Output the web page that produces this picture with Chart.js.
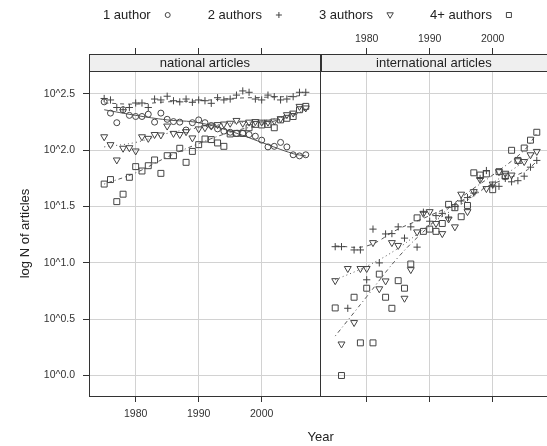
<!DOCTYPE html>
<html lang="en">
<head>
<meta charset="UTF-8">
<title>log N of articles by number of authors</title>
<script src="https://cdn.jsdelivr.net/npm/chart.js"></script>
<style>
  html, body { margin: 0; padding: 0; background: #fff; overflow: hidden; }
  canvas { display: block; }
</style>
</head>
<body>
<canvas id="grafico" width="547" height="446"></canvas>
<script>
// observation years (both panels)
const years = [1975, 1976, 1977, 1978, 1979, 1980, 1981, 1982, 1983, 1984,
               1985, 1986, 1987, 1988, 1989, 1990, 1991, 1992, 1993, 1994,
               1995, 1996, 1997, 1998, 1999, 2000, 2001, 2002, 2003, 2004,
               2005, 2006, 2007];

// national articles, log10 N
const nat1 = [2.43, 2.33, 2.245, 2.36, 2.31, 2.30, 2.30, 2.32, 2.25, 2.33,
              2.275, 2.255, 2.25, 2.18, 2.245, 2.27, 2.245, 2.22, 2.19, 2.17,
              2.16, 2.15, 2.15, 2.14, 2.125, 2.09, 2.03, 2.035, 2.07, 2.03,
              1.96, 1.95, 1.96];
const nat2 = [2.46, 2.447, 2.38, 2.36, 2.38, 2.42, 2.42, 2.38, 2.455, 2.447,
              2.48, 2.44, 2.43, 2.455, 2.426, 2.447, 2.44, 2.417, 2.467, 2.447,
              2.455, 2.49, 2.527, 2.515, 2.455, 2.447, 2.49, 2.476, 2.447, 2.455,
              2.476, 2.515, 2.515];
const nat3 = [2.12, 2.05, 1.914, 2.018, 2.023, 1.994, 2.12, 2.106, 2.14, 2.136,
              2.215, 2.15, 2.14, 2.165, 2.11, 2.19, 2.20, 2.215, 2.228, 2.233,
              2.24, 2.265, 2.24, 2.25, 2.255, 2.25, 2.25, 2.26, 2.28, 2.316,
              2.33, 2.39, 2.376];
const nat4 = [1.70, 1.74, 1.544, 1.61, 1.76, 1.855, 1.816, 1.863, 1.914, 1.795,
              1.952, 1.952, 2.018, 1.893, 1.99, 2.05, 2.10, 2.095, 2.065, 2.035,
              2.145, 2.15, 2.15, 2.20, 2.23, 2.225, 2.23, 2.20, 2.27, 2.284,
              2.30, 2.36, 2.39];

// international articles, log10 N (no single-author series)
const int2 = [1.144, 1.144, 0.597, 1.115, 1.115, 0.85, 1.30, 1.00, 1.257, 1.26,
              1.32, 1.22, 1.32, 1.14, 1.45, 1.37, 1.42, 1.44, 1.40, 1.50,
              1.55, 1.58, 1.62, 1.75, 1.82, 1.69, 1.68, 1.75, 1.72, 1.73,
              1.77, 1.85, 1.91];
const int3 = [0.842, 0.28, 0.95, 0.47, 0.95, 0.95, 1.18, 0.77, 0.84, 1.18,
              1.155, 0.686, 0.94, 1.275, 1.44, 1.455, 1.35, 1.26, 1.39, 1.32,
              1.61, 1.455, 1.633, 1.74, 1.66, 1.70, 1.81, 1.796, 1.78, 1.907,
              1.90, 1.96, 1.99];
const int4 = [0.60, 0.00, null, 0.695, 0.29, 0.775, 0.29, 0.90, 0.695, 0.597,
              0.842, 0.775, 0.99, 1.40, 1.28, 1.30, 1.28, 1.35, 1.52, 1.49,
              1.41, 1.51, 1.80, 1.78, 1.79, 1.65, 1.81, 1.77, 2.00, 1.91,
              2.02, 2.09, 2.16];

// smoothed trend lines
const fitYears = [1975, 1980, 1985, 1990, 1995, 2000, 2005, 2007];
const natFit1 = [2.36, 2.31, 2.27, 2.245, 2.17, 2.07, 1.97, 1.95];
const natFit2 = [2.42, 2.41, 2.43, 2.44, 2.46, 2.47, 2.48, 2.49];
const natFit3 = [2.03, 2.07, 2.15, 2.20, 2.24, 2.26, 2.32, 2.36];
const natFit4 = [1.70, 1.80, 1.94, 2.06, 2.16, 2.23, 2.31, 2.36];
const intFit2 = [1.15, 1.15, 1.30, 1.42, 1.55, 1.70, 1.81, 1.90];
const intFit3 = [0.85, 0.97, 1.13, 1.34, 1.52, 1.71, 1.90, 1.99];
const intFit4 = [0.35, 0.70, 1.05, 1.33, 1.58, 1.78, 2.00, 2.15];

const groups = ['1 author', '2 authors', '3 authors', '4+ authors'];
const panels = ['national articles', 'international articles'];
const xTicks = [1980, 1990, 2000];
const yTicks = [0, 0.5, 1, 1.5, 2, 2.5];
const yTickLabels = ['10^0.0', '10^0.5', '10^1.0', '10^1.5', '10^2.0', '10^2.5'];

const FONT = '"Liberation Sans", Arial, Helvetica, sans-serif';
const INK = '#444';
const FRAME = '#333';
const STRIP_H = 17;

Chart.defaults.font.family = FONT;
Chart.defaults.color = '#333';

const symbols = [
    { pointStyle: 'circle', pointRadius: 3, pointRotation: 0 },
    { pointStyle: 'cross', pointRadius: 3.6, pointRotation: 0 },
    { pointStyle: 'triangle', pointRadius: 4, pointRotation: 180 },
    { pointStyle: 'rect', pointRadius: 4.2, pointRotation: 0 }
];
const dashes = [[], [4, 4], [1, 3], [1, 3, 4, 3]];

function pares(xs, ys) {
    return xs.map((x, i) => ({ x: x, y: ys[i] })).filter(p => p.y !== null);
}

function pontos(g, ys, eixo) {
    return Object.assign({
        label: groups[g],
        data: pares(years, ys),
        xAxisID: eixo,
        yAxisID: 'y',
        borderColor: INK,
        backgroundColor: 'rgba(0,0,0,0)',
        borderWidth: 1,
        showLine: false
    }, symbols[g]);
}

function curva(g, ys, eixo) {
    return {
        label: groups[g] + ' fit',
        data: pares(fitYears, ys),
        xAxisID: eixo,
        yAxisID: 'y',
        showLine: true,
        pointRadius: 0,
        borderColor: '#555',
        borderWidth: 1,
        borderDash: dashes[g],
        tension: 0.4,
        fill: false
    };
}

// legend symbol, drawn like lattice key
function simbolo(ctx, g, x, y) {
    ctx.beginPath();
    if (g === 0) {
        ctx.arc(x, y, 2.5, 0, Math.PI * 2);
    } else if (g === 1) {
        ctx.moveTo(x - 3, y); ctx.lineTo(x + 3, y);
        ctx.moveTo(x, y - 3); ctx.lineTo(x, y + 3);
    } else if (g === 2) {
        ctx.moveTo(x - 3.2, y - 2.2); ctx.lineTo(x + 3.2, y - 2.2); ctx.lineTo(x, y + 3.3); ctx.closePath();
    } else {
        ctx.rect(x - 2.5, y - 2.5, 5, 5);
    }
    ctx.stroke();
}

const moldura = {
    id: 'moldura',
    beforeDatasetsDraw(chart) {
        const ctx = chart.ctx, a = chart.chartArea;
        const cols = [chart.scales.xL, chart.scales.xR];
        ctx.save();
        cols.forEach((s, i) => {
            const w = s.right - s.left;
            ctx.fillStyle = '#efefef';
            ctx.fillRect(s.left, a.top, w, STRIP_H);
            ctx.strokeStyle = FRAME;
            ctx.lineWidth = 1;
            ctx.strokeRect(Math.round(s.left) + 0.5, a.top + 0.5, w, STRIP_H);
            ctx.fillStyle = '#222';
            ctx.font = '13px ' + FONT;
            ctx.textAlign = 'center';
            ctx.textBaseline = 'middle';
            ctx.fillText(panels[i], (s.left + s.right) / 2, a.top + STRIP_H / 2 + 1);
        });
        ctx.restore();
    },
    afterDraw(chart) {
        const ctx = chart.ctx, a = chart.chartArea;
        const xl = chart.scales.xL;
        ctx.save();
        // divisão entre os painéis
        ctx.strokeStyle = FRAME;
        ctx.lineWidth = 1;
        const xd = Math.round(xl.right) - 0.5;
        ctx.beginPath();
        ctx.moveTo(xd, a.top);
        ctx.lineTo(xd, a.bottom);
        ctx.stroke();

        // títulos dos eixos
        ctx.fillStyle = '#222';
        ctx.font = '13px ' + FONT;
        ctx.textAlign = 'center';
        ctx.textBaseline = 'middle';
        ctx.fillText('Year', xl.right, 437);
        ctx.save();
        ctx.translate(25, (a.top + STRIP_H + a.bottom) / 2);
        ctx.rotate(-Math.PI / 2);
        ctx.fillText('log N of articles', 0, 0);
        ctx.restore();

        // legenda
        ctx.textAlign = 'left';
        let cx = 103;
        groups.forEach((nome, g) => {
            ctx.fillStyle = '#222';
            ctx.fillText(nome, cx, 15);
            const sx = cx + ctx.measureText(nome).width + 17;
            ctx.strokeStyle = INK;
            simbolo(ctx, g, sx, 15);
            cx = sx + 40;
        });
        ctx.restore();
    }
};

function eixoX(pos, stack, min, max, peso, ordem, comRotulos, grade) {
    return {
        type: 'linear',
        position: pos,
        stack: stack,
        stackWeight: peso,
        weight: ordem,
        min: min,
        max: max,
        afterBuildTicks: s => { s.ticks = xTicks.map(v => ({ value: v })); },
        afterFit: s => { s.height = pos === 'top' ? 54 : 50; },
        grid: {
            color: '#d2d2d2',
            tickColor: FRAME,
            tickLength: 6,
            drawOnChartArea: grade
        },
        border: { display: true, color: FRAME },
        ticks: {
            font: { size: 10.5 },
            color: '#333',
            padding: pos === 'top' ? 3 : 6,
            maxRotation: 0,
            callback: v => comRotulos ? String(v) : ''
        }
    };
}

const datasets = [
    pontos(0, nat1, 'xL'), pontos(1, nat2, 'xL'), pontos(2, nat3, 'xL'), pontos(3, nat4, 'xL'),
    curva(0, natFit1, 'xL'), curva(1, natFit2, 'xL'), curva(2, natFit3, 'xL'), curva(3, natFit4, 'xL'),
    pontos(1, int2, 'xR'), pontos(2, int3, 'xR'), pontos(3, int4, 'xR'),
    curva(1, intFit2, 'xR'), curva(2, intFit3, 'xR'), curva(3, intFit4, 'xR')
];

new Chart(document.getElementById('grafico'), {
    type: 'scatter',
    data: { datasets: datasets },
    options: {
        responsive: false,
        animation: false,
        events: [],
        layout: { padding: 0, autoPadding: false },
        plugins: {
            legend: { display: false },
            tooltip: { enabled: false }
        },
        scales: {
            xL: eixoX('bottom', 'baixo', 1972.59, 2009.37, 231.7, 0, true, true),
            xR: eixoX('bottom', 'baixo', 1972.70, 2008.62, 226.3, 1, false, true),
            xLt: eixoX('top', 'cima', 1972.59, 2009.37, 231.7, 1, false, false),
            xRt: eixoX('top', 'cima', 1972.70, 2008.62, 226.3, 0, true, false),
            y: {
                type: 'linear',
                position: 'left',
                min: -0.182,
                max: 2.855,
                afterBuildTicks: s => { s.ticks = yTicks.map(v => ({ value: v })); },
                afterFit: s => { s.width = 89; },
                grid: {
                    color: '#d2d2d2',
                    tickColor: FRAME,
                    tickLength: 6
                },
                border: { display: true, color: FRAME },
                ticks: {
                    font: { size: 10.5 },
                    color: '#333',
                    padding: 8,
                    callback: v => yTickLabels[yTicks.indexOf(v)]
                }
            }
        }
    },
    plugins: [moldura]
});
</script>
</body>
</html>
